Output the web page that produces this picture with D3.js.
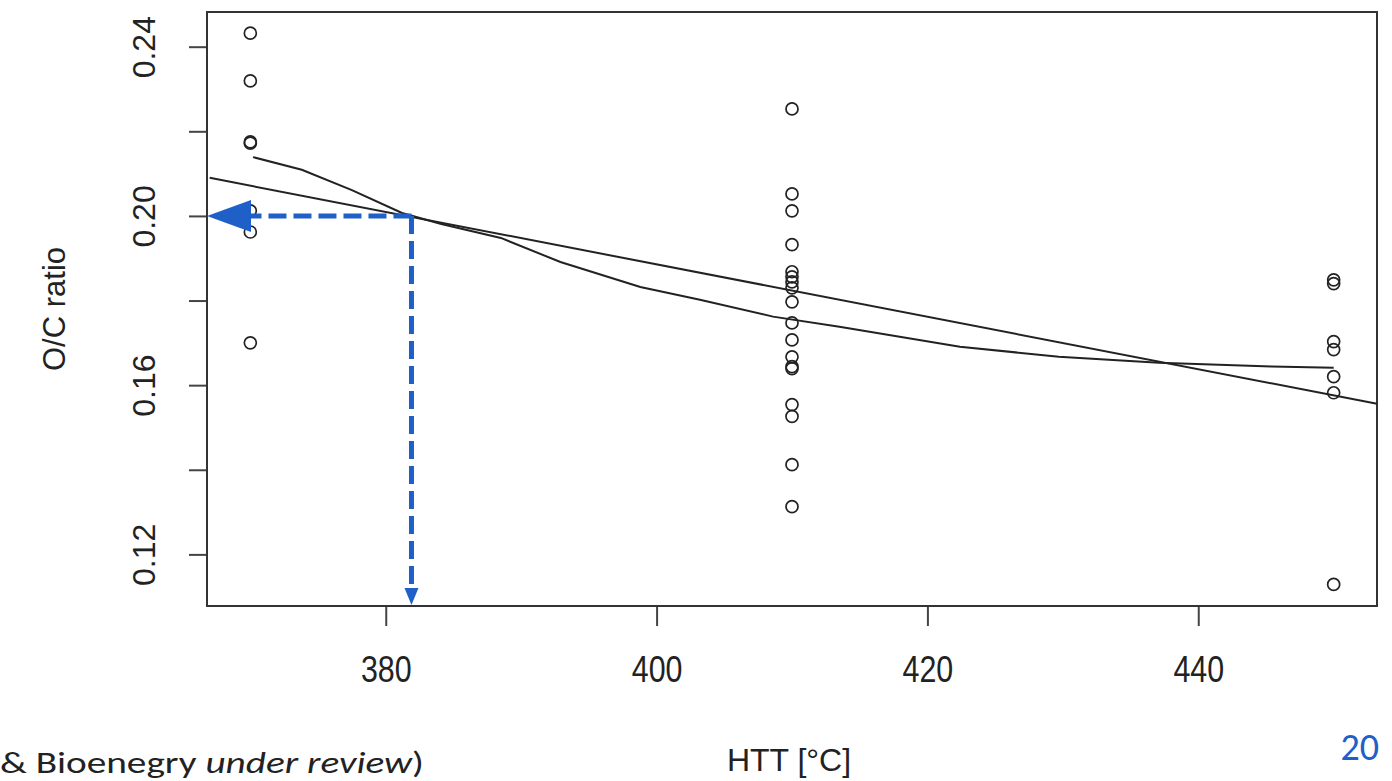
<!DOCTYPE html>
<html>
<head>
<meta charset="utf-8">
<script src="https://cdn.jsdelivr.net/npm/d3@7"></script>
<style>
  body { margin: 0; background: #fff; }
  svg { display: block; }
  text { font-family: "Liberation Sans", Arial, sans-serif; fill: #222; }
</style>
</head>
<body>
<div id="chart"></div>
<script>
// data
var htt370 = [0.2432, 0.2319, 0.2175, 0.2172, 0.2012, 0.1962, 0.1700];
var htt410 = [0.2253, 0.2052, 0.2012, 0.1932, 0.1868, 0.1856, 0.1844, 0.1830, 0.1797,
              0.1747, 0.1707, 0.1667, 0.1644, 0.1639, 0.1554, 0.1526, 0.1412, 0.1313];
var htt450 = [0.1849, 0.1840, 0.1703, 0.1684, 0.1620, 0.1582, 0.1129];

// linear fit (drawn edge to edge like abline)
var fitLine = [[367.0, 0.2090], [453.2, 0.1556]];

// smoothed curve
var smoothX = [370.2, 373.8, 377.5, 381.2, 384.1, 388.5, 392.9, 398.8, 403.2, 408.6, 413.5, 422.4, 429.7, 437.1, 445.4, 450.0];
var smoothY = [0.2139, 0.2109, 0.2061, 0.2007, 0.1981, 0.1948, 0.1891, 0.1832, 0.1802, 0.1762, 0.1738, 0.1691, 0.1667, 0.1653, 0.1644, 0.1641];

var xTicks = [380, 400, 420, 440];
var yTicks = [0.12, 0.14, 0.16, 0.18, 0.20, 0.22, 0.24];
var yLabels = [0.12, 0.16, 0.20, 0.24];

// blue read-off arrows
var readX = 381.9, readY = 0.20;

var points = []
  .concat(htt370.map(function(v) { return {t: 370, v: v}; }))
  .concat(htt410.map(function(v) { return {t: 410, v: v}; }))
  .concat(htt450.map(function(v) { return {t: 450, v: v}; }));
var smooth = smoothX.map(function(t, i) { return [t, smoothY[i]]; });

var W = 1392, H = 781;
var margin = {top: 12, right: 15, bottom: 175, left: 207},
    width = W - margin.left - margin.right,
    height = H - margin.top - margin.bottom;

var root = d3.select("#chart").append("svg")
    .attr("width", W)
    .attr("height", H);

var svg = root.append("g")
    .attr("transform", "translate(" + margin.left + "," + margin.top + ")");

var xScale = d3.scaleLinear().domain([366.8, 453.2]).range([0, width]);
var yScale = d3.scaleLinear().domain([0.1078, 0.2482]).range([height, 0]);

// x axis
var xAxis = d3.axisBottom(xScale).tickValues(xTicks).tickSize(20).tickPadding(24)
    .tickFormat(d3.format("d"));
var gx = svg.append("g")
    .attr("transform", "translate(0," + height + ")")
    .call(xAxis);
gx.select(".domain").remove();
gx.selectAll(".tick line").attr("stroke", "#444").attr("stroke-width", 2);
gx.selectAll(".tick text")
    .style("font-size", "32px")
    .attr("transform", "scale(0.95,1.14)");

// y axis
var yAxis = d3.axisLeft(yScale).tickValues(yTicks).tickSize(18)
    .tickFormat(function(d) { return yLabels.some(function(l) { return Math.abs(l - d) < 1e-9; }) ? d3.format(".2f")(d) : ""; });
var gy = svg.append("g").call(yAxis);
gy.select(".domain").remove();
gy.selectAll(".tick line").attr("stroke", "#444").attr("stroke-width", 2);
gy.selectAll(".tick text")
    .style("font-size", "32px")
    .attr("text-anchor", "middle")
    .attr("x", 0)
    .attr("dy", 0)
    .attr("transform", "translate(-60,0) rotate(-90)")
    .attr("dominant-baseline", "middle");

// plot box
svg.append("rect")
    .attr("width", width)
    .attr("height", height)
    .attr("fill", "none")
    .attr("stroke", "#333")
    .attr("stroke-width", 2);

// fitted lines
var line = d3.line()
    .x(function(d) { return xScale(d[0]); })
    .y(function(d) { return yScale(d[1]); });

svg.append("path")
    .datum(fitLine)
    .attr("d", line)
    .attr("fill", "none")
    .attr("stroke", "#222")
    .attr("stroke-width", 2);

svg.append("path")
    .datum(smooth)
    .attr("d", line)
    .attr("fill", "none")
    .attr("stroke", "#222")
    .attr("stroke-width", 2);

// points
svg.selectAll(".dot")
    .data(points)
  .enter().append("circle")
    .attr("class", "dot")
    .attr("r", 6)
    .attr("cx", function(d) { return xScale(d.t); })
    .attr("cy", function(d) { return yScale(d.v); })
    .attr("fill", "none")
    .attr("stroke", "#222")
    .attr("stroke-width", 1.7);

// blue dashed read-off arrows
var blue = "#1f60c8";
var ax = xScale(readX), ay = yScale(readY);
svg.append("line")
    .attr("x1", ax).attr("y1", ay)
    .attr("x2", 40).attr("y2", ay)
    .attr("stroke", blue).attr("stroke-width", 5)
    .attr("stroke-dasharray", "18,7");
svg.append("line")
    .attr("x1", ax).attr("y1", ay)
    .attr("x2", ax).attr("y2", height - 16)
    .attr("stroke", blue).attr("stroke-width", 5)
    .attr("stroke-dasharray", "18,7");
svg.append("path")
    .attr("d", "M0," + ay + "L44," + (ay - 16) + "L44," + (ay + 16) + "Z")
    .attr("fill", blue);
svg.append("path")
    .attr("d", "M" + ax + "," + (height - 1) + "L" + (ax - 7) + "," + (height - 18) + "L" + (ax + 7) + "," + (height - 18) + "Z")
    .attr("fill", blue);

// axis titles
svg.append("text")
    .attr("transform", "translate(-150," + (height / 2) + ") rotate(-90)")
    .attr("text-anchor", "middle")
    .attr("dominant-baseline", "middle")
    .style("font-size", "31px")
    .text("O/C ratio");

root.append("text")
    .attr("x", 789)
    .attr("y", 771)
    .attr("text-anchor", "middle")
    .style("font-size", "32px")
    .text("HTT [°C]");

// slide remnants
var foot = root.append("text")
    .attr("x", 0)
    .attr("y", 773)
    .style("font-family", "Carlito, 'Open Sans', sans-serif")
    .style("font-size", "30px")
    .attr("textLength", 424)
    .attr("lengthAdjust", "spacingAndGlyphs");
foot.append("tspan").text("& Bioenegry ");
foot.append("tspan").style("font-style", "italic").text("under review");
foot.append("tspan").text(")");

root.append("text")
    .attr("x", 1379)
    .attr("y", 760)
    .attr("text-anchor", "end")
    .style("font-family", "Carlito, 'Open Sans', sans-serif")
    .style("font-size", "38px")
    .style("fill", blue)
    .text("20");
</script>
</body>
</html>
